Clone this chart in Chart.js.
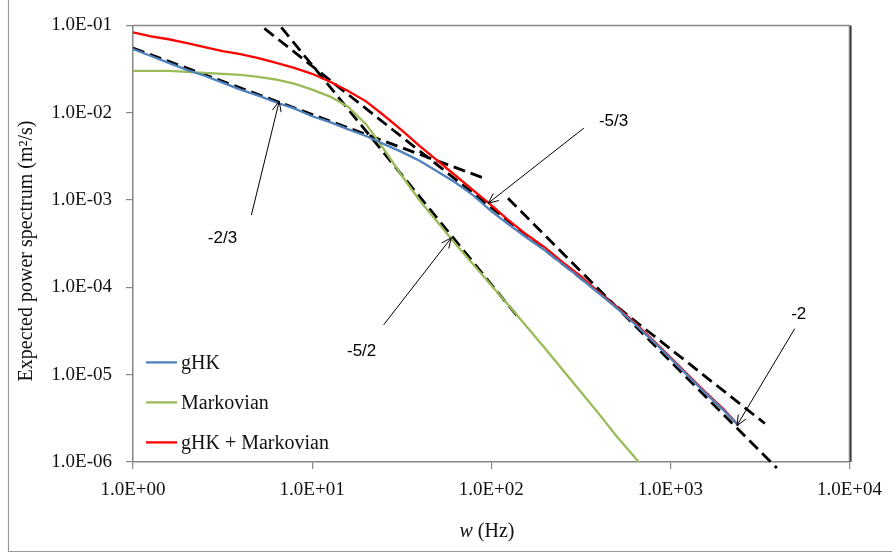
<!DOCTYPE html>
<html>
<head>
<meta charset="utf-8">
<script src="https://cdn.jsdelivr.net/npm/chart.js@4/dist/chart.umd.min.js"></script>
<style>
  html, body { margin: 0; padding: 0; background: #fff; }
  canvas { display: block; }
</style>
</head>
<body>
<canvas id="c" width="892" height="554"></canvas>
<script>
// Frequencies (Hz) at which the spectra are sampled
const freq = [1, 1.26, 1.58, 2, 2.51, 3.16, 3.98, 5.01, 6.31, 7.94,
  10, 12.6, 15.8, 20, 25.1, 31.6, 39.8, 50.1, 63.1, 79.4,
  100, 126, 158, 200, 251, 316, 398, 501, 631, 794,
  1000, 1259, 1585, 1995, 2400];

// Expected power spectrum (m²/s)
const gHK = [0.0535, 0.0446, 0.0372, 0.0310, 0.0265, 0.0221, 0.0184, 0.0157, 0.0131, 0.0112,
  0.00911, 0.00779, 0.00649, 0.00541, 0.00439, 0.00356, 0.00282, 0.00212, 0.00159, 0.00113,
  0.000747, 0.000519, 0.000370, 0.000264, 0.000183, 0.000127, 8.60e-5, 5.82e-5, 3.83e-5, 2.46e-5,
  1.54e-5, 9.64e-6, 6.03e-6, 3.88e-6, 2.62e-6];

const markovian = [0.0302, 0.0302, 0.0302, 0.0294, 0.0286, 0.0279, 0.0272, 0.0258, 0.0239, 0.0215,
  0.0184, 0.0153, 0.0118, 0.00739, 0.00385, 0.00191, 0.000995, 0.000561, 0.000316, 0.000183,
  0.000106, 6.13e-5, 3.55e-5, 2.00e-5, 1.13e-5, 6.36e-6, 3.58e-6, 1.97e-6, 1.14e-6, 6.42e-7];

const combined = [0.0833, 0.0751, 0.0694, 0.0626, 0.0564, 0.0508, 0.0470, 0.0423, 0.0372, 0.0326,
  0.0279, 0.0226, 0.0179, 0.0135, 0.00935, 0.00632, 0.00417, 0.00282, 0.00191, 0.00129,
  0.000873, 0.000576, 0.000400, 0.000285, 0.000193, 0.000134, 8.83e-5, 5.97e-5, 3.94e-5, 2.53e-5,
  1.58e-5, 9.90e-6, 6.19e-6, 3.98e-6, 2.62e-6];

// Power-law reference lines, [w, S] at both ends
const slopeTwoThirds = [[1, 0.0549], [92.6, 0.00176]];
const slopeFiveThirds = [[5.41, 0.0925], [3372, 2.76e-6]];
const slopeFiveHalves = [[6.73, 0.0949], [145, 4.26e-5]];
const slopeTwo = [[124, 1.05e-3], [3930, 8.55e-7]];

// Axis ticks
const xTicks = [1, 10, 100, 1000, 10000];
const xTickLabels = ['1.0E+00', '1.0E+01', '1.0E+02', '1.0E+03', '1.0E+04'];
const yTicks = [1e-6, 1e-5, 1e-4, 1e-3, 1e-2, 1e-1];
const yTickLabels = ['1.0E-06', '1.0E-05', '1.0E-04', '1.0E-03', '1.0E-02', '1.0E-01'];

// Slope labels: text position, arrow tail and arrow tip, as [w, S]
const slopeNotes = [
  { text: '-2/3', at: [3.16, 3.6e-4], from: [4.58, 6.73e-4], to: [6.55, 0.0135] },
  { text: '-5/2', at: [18.9, 1.85e-5], from: [25.1, 3.73e-5], to: [59.9, 3.70e-4] },
  { text: '-5/3', at: [482, 0.0080], from: [329, 0.00666], to: [96.2, 0.00092] },
  { text: '-2', at: [5210, 4.85e-5], from: [4950, 3.37e-5], to: [2355, 2.62e-6] }
];

const SERIF = '"Liberation Serif", "DejaVu Serif", serif';
const SANS = '"Liberation Sans", Arial, sans-serif';
const AXIS_GREY = '#868686';
const TEXT = '#111';

const toPoints = (xs, ys) => ys.map((y, i) => ({ x: xs[i], y }));
const pairPoints = pts => pts.map(p => ({ x: p[0], y: p[1] }));

const curve = (label, data, color) => ({
  label, data, borderColor: color, backgroundColor: color,
  borderWidth: 2.3, pointRadius: 0, tension: 0, fill: false
});
const fitLine = (data, clip) => ({
  label: '', data: pairPoints(data), borderColor: '#000', borderWidth: 2.8,
  borderDash: [12, 6], borderCapStyle: 'butt', pointRadius: 0, tension: 0,
  fill: false, clip: clip, isFit: true
});

// Background, outer frame, plot border, legend, titles and slope annotations
const decor = {
  id: 'decor',
  beforeDraw(chart) {
    const ctx = chart.ctx;
    ctx.save();
    ctx.fillStyle = '#fff';
    ctx.fillRect(0, 0, chart.width, chart.height);
    ctx.strokeStyle = '#9a9a9a';
    ctx.lineWidth = 1.2;
    ctx.beginPath();
    ctx.moveTo(8.5, 0);
    ctx.lineTo(8.5, 551.5);
    ctx.lineTo(chart.width, 551.5);
    ctx.stroke();
    ctx.restore();
  },
  afterDatasetsDraw(chart) {
    const ctx = chart.ctx;
    const a = chart.chartArea;
    const xs = chart.scales.x, ys = chart.scales.y;
    ctx.save();

    // top and right edges of the plot area
    ctx.strokeStyle = AXIS_GREY;
    ctx.lineWidth = 1.5;
    ctx.beginPath();
    ctx.moveTo(a.left, a.top);
    ctx.lineTo(a.right, a.top);
    ctx.lineTo(a.right, a.bottom);
    ctx.stroke();
    ctx.strokeStyle = '#000';
    ctx.lineWidth = 1.2;
    ctx.beginPath();
    ctx.moveTo(a.right + 1.4, a.top);
    ctx.lineTo(a.right + 1.4, a.bottom);
    ctx.stroke();

    // slope annotations
    ctx.strokeStyle = '#000';
    ctx.fillStyle = '#000';
    ctx.lineWidth = 1;
    ctx.font = '17px ' + SANS;
    ctx.textAlign = 'center';
    ctx.textBaseline = 'middle';
    slopeNotes.forEach(n => {
      const x0 = xs.getPixelForValue(n.from[0]), y0 = ys.getPixelForValue(n.from[1]);
      const x1 = xs.getPixelForValue(n.to[0]), y1 = ys.getPixelForValue(n.to[1]);
      ctx.beginPath();
      ctx.moveTo(x0, y0);
      ctx.lineTo(x1, y1);
      const ang = Math.atan2(y1 - y0, x1 - x0);
      const len = 11, spread = 0.42;
      ctx.moveTo(x1 - len * Math.cos(ang - spread), y1 - len * Math.sin(ang - spread));
      ctx.lineTo(x1, y1);
      ctx.lineTo(x1 - len * Math.cos(ang + spread), y1 - len * Math.sin(ang + spread));
      ctx.stroke();
      ctx.fillText(n.text, xs.getPixelForValue(n.at[0]), ys.getPixelForValue(n.at[1]));
    });

    // legend in the lower-left corner of the plot
    ctx.font = '20px ' + SERIF;
    ctx.textAlign = 'left';
    ctx.fillStyle = TEXT;
    const rows = chart.data.datasets.filter(d => !d.isFit);
    rows.forEach((d, i) => {
      const y = a.top + 337 + i * 40;
      ctx.strokeStyle = d.borderColor;
      ctx.lineWidth = 2.3;
      ctx.beginPath();
      ctx.moveTo(a.left + 13, y);
      ctx.lineTo(a.left + 44, y);
      ctx.stroke();
      ctx.fillText(d.label, a.left + 48, y + 1);
    });

    // axis titles
    ctx.fillStyle = TEXT;
    ctx.textBaseline = 'middle';
    const yTitle = 'Expected power spectrum (m\u00B2/s)';
    ctx.save();
    ctx.translate(27, 251);
    ctx.rotate(-Math.PI / 2);
    ctx.textAlign = 'center';
    ctx.font = '20px ' + SERIF;
    ctx.fillText(yTitle, 0, 0);
    ctx.restore();

    const wPart = 'w', hzPart = ' (Hz)';
    ctx.font = 'italic 20px ' + SERIF;
    const w1 = ctx.measureText(wPart).width;
    ctx.font = '20px ' + SERIF;
    const w2 = ctx.measureText(hzPart).width;
    const cx = 487, cy = 532;
    const x = cx - (w1 + w2) / 2;
    ctx.textAlign = 'left';
    ctx.font = 'italic 20px ' + SERIF;
    ctx.fillText(wPart, x, cy);
    ctx.font = '20px ' + SERIF;
    ctx.fillText(hzPart, x + w1, cy);

    ctx.restore();
  }
};

const tickFont = { family: SERIF, size: 19 };

new Chart(document.getElementById('c'), {
  type: 'line',
  data: {
    datasets: [
      curve('gHK', toPoints(freq, gHK), '#4F81BD'),
      curve('Markovian', toPoints(freq, markovian), '#9BBB59'),
      curve('gHK + Markovian', toPoints(freq, combined), '#FF0000'),
      fitLine(slopeTwoThirds, true),
      fitLine(slopeFiveThirds, true),
      fitLine(slopeFiveHalves, true),
      fitLine(slopeTwo, false)
    ]
  },
  options: {
    responsive: false,
    animation: false,
    events: [],
    layout: { padding: { left: 0, right: 39, top: 20, bottom: 0 } },
    plugins: { legend: { display: false }, tooltip: { enabled: false }, title: { display: false } },
    scales: {
      x: {
        type: 'logarithmic',
        min: 1, max: 10000,
        afterBuildTicks: s => { s.ticks = xTicks.map(v => ({ value: v })); },
        afterFit: s => { s.height = 92; },
        ticks: {
          autoSkip: false, maxRotation: 0, padding: 10, color: TEXT, font: tickFont,
          callback: (v, i) => xTickLabels[i]
        },
        grid: { drawOnChartArea: false, drawTicks: true, tickLength: 7, color: AXIS_GREY, lineWidth: 1.2 },
        border: { display: true, color: AXIS_GREY, width: 1.5 }
      },
      y: {
        type: 'logarithmic',
        min: 1e-6, max: 1e-1,
        afterBuildTicks: s => { s.ticks = yTicks.map(v => ({ value: v })); },
        afterFit: s => { s.width = 133; },
        ticks: {
          autoSkip: false, padding: 14, color: TEXT, font: tickFont,
          callback: (v, i) => yTickLabels[i]
        },
        grid: { drawOnChartArea: false, drawTicks: true, tickLength: 7, color: AXIS_GREY, lineWidth: 1.2 },
        border: { display: true, color: AXIS_GREY, width: 1.5 }
      }
    }
  },
  plugins: [decor]
});
</script>
</body>
</html>
